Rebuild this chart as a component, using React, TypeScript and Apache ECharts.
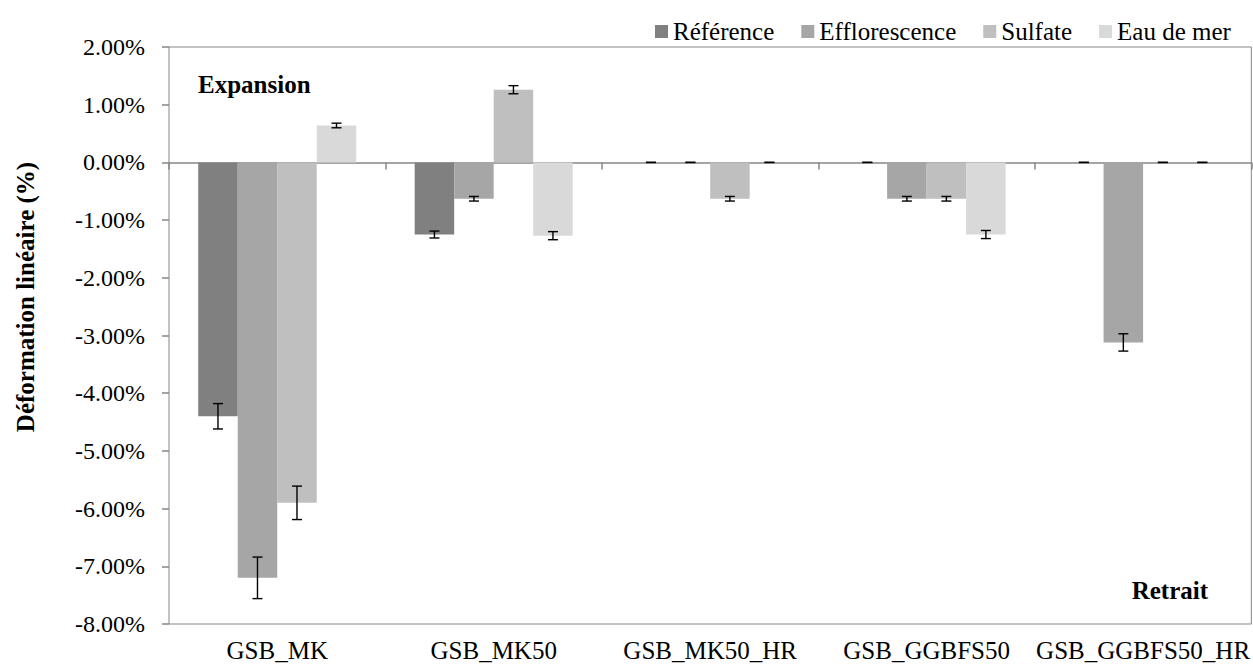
import React, { useEffect, useRef } from "react";
import * as echarts from "echarts";

const categories = ["GSB_MK", "GSB_MK50", "GSB_MK50_HR", "GSB_GGBFS50", "GSB_GGBFS50_HR"];
const seriesNames = ["Référence", "Efflorescence", "Sulfate", "Eau de mer"];
const reference = [-4.4, -1.25, 0, 0, 0];
const referenceErr = [0.22, 0.06, 0, 0, 0];
const efflorescence = [-7.2, -0.63, 0, -0.63, -3.12];
const efflorescenceErr = [0.36, 0.04, 0, 0.04, 0.15];
const sulfate = [-5.9, 1.26, -0.63, -0.63, 0];
const sulfateErr = [0.29, 0.07, 0.04, 0.04, 0];
const eauDeMer = [0.64, -1.27, 0, -1.25, 0];
const eauDeMerErr = [0.04, 0.07, 0, 0.07, 0];
const colors = ["#808080", "#A6A6A6", "#BFBFBF", "#D9D9D9"];
const yMin = -8;
const yMax = 2;
const yInterval = 1;
const yTitle = "Déformation linéaire (%)";
const annotations = ["Expansion", "Retrait"];

const FONT = "Liberation Serif";
const BOLD_FONT = "bold 25px 'Liberation Serif', 'Times New Roman', serif";
const AXIS_GRAY = "#868686";
const CAT_GAP = 0.27;

export default function App() {
  const ref = useRef<HTMLDivElement>(null);
  useEffect(() => {
    if (!ref.current) return;
    const chart = echarts.init(ref.current, undefined, { renderer: "svg" });
    const values = [reference, efflorescence, sulfate, eauDeMer];
    const errs = [referenceErr, efflorescenceErr, sulfateErr, eauDeMerErr];

    const barSeries = values.map((vals, i) => ({
      name: seriesNames[i],
      type: "bar",
      xAxisIndex: 0,
      yAxisIndex: 0,
      data: vals,
      barGap: "0%",
      barCategoryGap: CAT_GAP * 100 + "%",
      itemStyle: { color: colors[i] },
      z: 2,
    }));

    const errSeries = values.map((vals, i) => ({
      name: "err" + i,
      type: "custom",
      xAxisIndex: 0,
      yAxisIndex: 0,
      z: 5,
      data: vals.map((v, k) => [k, v, errs[i][k]]),
      renderItem: (params: any, api: any) => {
        const ci = api.value(0);
        const v = api.value(1);
        const e = api.value(2);
        const catW = api.size([1, 0])[0];
        const barW = (catW * (1 - CAT_GAP)) / 4;
        const c = api.coord([ci, v]);
        const x = c[0] + (i - 1.5) * barW;
        const top = api.coord([ci, v + e])[1];
        const bot = api.coord([ci, v - e])[1];
        const cap = 5;
        const st = { stroke: "#000", lineWidth: 1.4 };
        return {
          type: "group",
          children: [
            { type: "line", shape: { x1: x, y1: top, x2: x, y2: bot }, style: st },
            { type: "line", shape: { x1: x - cap, y1: top, x2: x + cap, y2: top }, style: st },
            { type: "line", shape: { x1: x - cap, y1: bot, x2: x + cap, y2: bot }, style: st },
          ],
        };
      },
    }));

    chart.setOption({
      animation: false,
      backgroundColor: "#fff",
      textStyle: { fontFamily: FONT },
      grid: {
        left: 169,
        right: 1,
        top: 47,
        bottom: 41,
        show: true,
        borderColor: AXIS_GRAY,
        borderWidth: 1,
        containLabel: false,
      },
      legend: {
        data: seriesNames,
        left: 650,
        top: 14,
        icon: "rect",
        itemWidth: 13,
        itemHeight: 13,
        itemGap: 27,
        textStyle: { fontFamily: FONT, fontSize: 25, color: "#000" },
      },
      xAxis: [
        {
          type: "category",
          data: categories,
          position: "bottom",
          axisLine: { show: false, onZero: false },
          axisTick: { show: false },
          axisLabel: { fontFamily: FONT, fontSize: 25, color: "#000", margin: 14, interval: 0 },
          splitLine: { show: false },
        },
        {
          type: "category",
          data: categories,
          position: "bottom",
          axisLine: { show: true, onZero: true, lineStyle: { color: AXIS_GRAY, width: 1.5 } },
          axisTick: { show: true, length: 7, lineStyle: { color: AXIS_GRAY, width: 1.5 } },
          axisLabel: { show: false },
          splitLine: { show: false },
        },
      ],
      yAxis: {
        type: "value",
        min: yMin,
        max: yMax,
        interval: yInterval,
        axisLine: { show: false },
        axisTick: { show: true, length: 7, lineStyle: { color: AXIS_GRAY, width: 1.5 } },
        splitLine: { show: false },
        axisLabel: {
          fontFamily: FONT,
          fontSize: 24,
          color: "#000",
          margin: 24,
          formatter: (v: number) => v.toFixed(2) + "%",
        },
      },
      graphic: [
        {
          type: "text",
          x: 25,
          y: 297,
          rotation: Math.PI / 2,
          style: {
            text: yTitle,
            font: BOLD_FONT,
            fill: "#000",
            align: "center",
            verticalAlign: "middle",
          },
        },
        {
          type: "text",
          x: 198,
          y: 84,
          style: {
            text: annotations[0],
            font: BOLD_FONT,
            fill: "#000",
            align: "left",
            verticalAlign: "middle",
          },
        },
        {
          type: "text",
          x: 1208,
          y: 590,
          style: {
            text: annotations[1],
            font: BOLD_FONT,
            fill: "#000",
            align: "right",
            verticalAlign: "middle",
          },
        },
      ],
      series: [...barSeries, ...errSeries],
    });
    return () => chart.dispose();
  }, []);
  return (
    <div
      ref={ref}
      style={{ position: "absolute", left: 0, top: 0, width: 1253, height: 665, background: "#fff" }}
    />
  );
}
